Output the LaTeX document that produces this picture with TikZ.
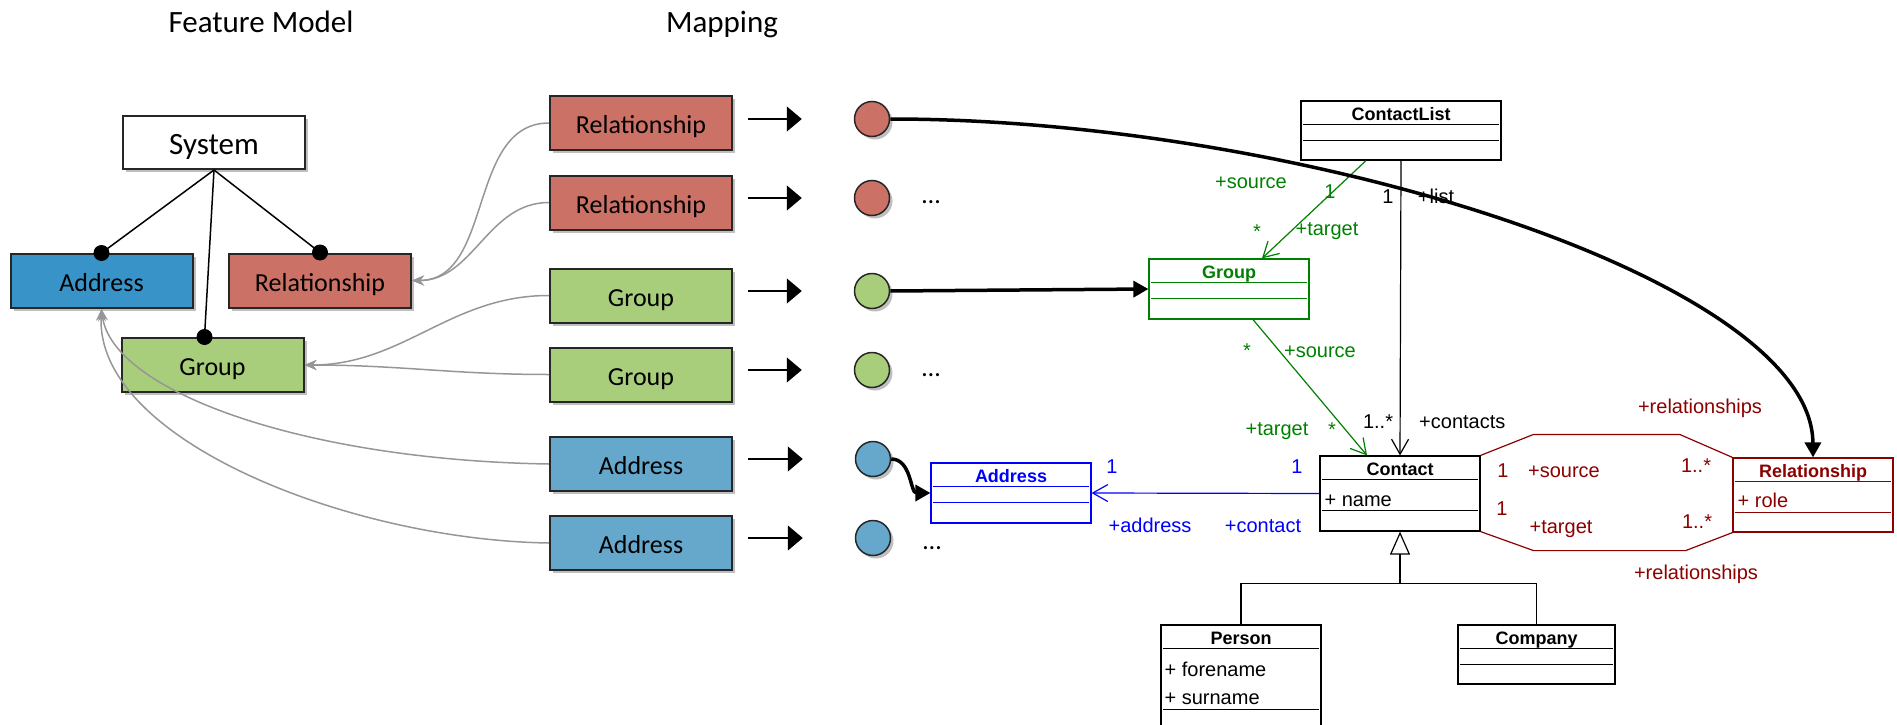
\documentclass[tikz,border=0pt]{standalone}
\usepackage{fontspec}
\setmainfont{Carlito}
\newfontfamily\umlfont{Liberation Sans}
\usetikzlibrary{arrows.meta,shadows}

\definecolor{addrdark}{RGB}{56,148,200}
\definecolor{addrblue}{RGB}{101,168,204}
\definecolor{relred}{RGB}{204,113,101}
\definecolor{grpgreen}{RGB}{169,206,123}
\definecolor{umlgreen}{RGB}{0,128,0}
\definecolor{umlblue}{RGB}{0,0,255}
\definecolor{umlred}{RGB}{140,0,0}
\definecolor{linkgray}{RGB}{150,150,150}

\begin{document}
\begin{tikzpicture}[x=1pt,y=-1pt]
        \clip (0,0) rectangle (1897,725);
        \tikzstyle{every node} = [inner sep=0pt]
        \tikzstyle{feat} = [rectangle, draw=black!85, line width=2pt, minimum width=182pt, minimum height=54pt,
            font=\fontsize{26}{30}\selectfont, text height=27pt, text depth=6pt,
            drop shadow={shadow xshift=3pt, shadow yshift=-3pt, opacity=0.25, fill=black}]
        \tikzstyle{obj} = [circle, draw=black!85, line width=1.5pt, minimum size=35pt,
            drop shadow={shadow xshift=3pt, shadow yshift=-3pt, opacity=0.25, fill=black}]
        \tikzstyle{head} = [font=\fontsize{31}{36}\selectfont, anchor=base]
        \tikzstyle{cls} = [rectangle, draw, line width=1.2pt, fill=white]
        \tikzstyle{clsname} = [font=\umlfont\bfseries\fontsize{18}{22}\selectfont, anchor=base]
        \tikzstyle{attr} = [font=\umlfont\fontsize{20}{24}\selectfont, anchor=base west]
        \tikzstyle{lbl} = [font=\umlfont\fontsize{20}{24}\selectfont, anchor=base]
        \tikzstyle{trace} = [draw=linkgray, line width=1.5pt, -{Stealth[length=12pt,width=10pt]}]
        \tikzstyle{maps} = [line width=1.2pt, -{Triangle[length=15pt,width=25pt]}]
        \tikzstyle{bind} = [line width=3.5pt, -{Triangle[length=15pt,width=16pt]}]
        \tikzstyle{assoc} = [line width=1.2pt, -{Straight Barb[length=15pt,width=17pt]}]

        % headings
        \node[head] (fmtitle) at (261,33) {Feature Model};
        \node[head] (maptitle) at (722,33) {Mapping};

        % feature model
        \node[feat, fill=white, drop shadow={opacity=0}, font=\fontsize{31}{36}\selectfont,
            text height=30pt, text depth=7pt, minimum height=53pt] (sys) at (214,142.5) {System};
        \node[feat, fill=addrdark] (fa) at (101.5,281) {Address};
        \node[feat, fill=relred] (fr) at (320,280.5) {Relationship};
        \node[feat, fill=grpgreen] (fg) at (212.5,365) {Group};

        \foreach \to/\dx in {fa/0, fr/0, fg/-8}
            \draw[line width=1.5pt] (sys.south) -- ([xshift=\dx pt]\to.north);
        \foreach \to/\dx in {fa/0, fr/0, fg/-8}
            \fill ([xshift=\dx pt]\to.north) circle (8);

        % mapping
        \node[feat, fill=relred] (m1) at (641,123) {Relationship};
        \node[feat, fill=relred] (m2) at (641,202.5) {Relationship};
        \node[feat, fill=grpgreen] (m3) at (641,295.5) {Group};
        \node[feat, fill=grpgreen] (m4) at (641,374.5) {Group};
        \node[feat, fill=addrblue] (m5) at (641,464) {Address};
        \node[feat, fill=addrblue] (m6) at (641,543) {Address};

        \node[obj, fill=relred] (o1) at (872,119) {};
        \node[obj, fill=relred] (o2) at (872,198) {};
        \node[obj, fill=grpgreen] (o3) at (872,291) {};
        \node[obj, fill=grpgreen] (o4) at (872,370) {};
        \node[obj, fill=addrblue] (o5) at (873,459) {};
        \node[obj, fill=addrblue] (o6) at (873,538) {};

        \foreach \i in {1,...,6}
            \draw[maps, shorten <=15pt, shorten >=52pt] (m\i.east |- o\i) -- (o\i.west);

        \node[anchor=base, font=\fontsize{26}{30}\selectfont] (d2) at (931,203) {\dots};
        \node[anchor=base, font=\fontsize{26}{30}\selectfont] (d4) at (931,376) {\dots};
        \node[anchor=base, font=\fontsize{26}{30}\selectfont] (d6) at (932,549) {\dots};

        % trace links back to the features
        \foreach \from/\to in {m1/fr, m2/fr, m3/fg, m4/fg}
            \draw[trace] (\from.west) to[out=180,in=0] (\to.east);
        \draw[trace] (m5.west) .. controls (300,460) and (112,390) .. (fa.south);
        \draw[trace] (m6.west) .. controls (350,540) and (95,440) .. (fa.south);

        % class diagram
        \node[cls, minimum width=200pt, minimum height=59pt] (clist) at (1401,130.5) {};
        \node[cls, draw=umlgreen, minimum width=160pt, minimum height=60pt] (gbox) at (1229,289) {};
        \node[cls, draw=umlblue, minimum width=160pt, minimum height=60pt] (abox) at (1011,493) {};
        \node[cls, minimum width=160pt, minimum height=75pt] (contact) at (1400,493.5) {};
        \node[cls, draw=umlred, minimum width=160pt, minimum height=74pt] (rbox) at (1813,495) {};
        \node[cls, minimum width=160pt, minimum height=120pt] (person) at (1241,685) {};
        \node[cls, minimum width=157pt, minimum height=59pt] (company) at (1536.5,654.5) {};

        \foreach \n/\c/\b/\t in {clist/black/40/ContactList, gbox/umlgreen/40/Group, abox/umlblue/40/Address,
                contact/black/55/Contact, rbox/umlred/55/Relationship, person/black/85/Person, company/black/40/Company}
        {
            \node[clsname, text=\c] (t\n) at ([yshift=-20pt]\n.north) {\t};
            \draw[\c, line width=1.2pt] ([xshift=3pt,yshift=-24pt]\n.north west) -- ([xshift=-3pt,yshift=-24pt]\n.north east);
            \draw[\c, line width=1.2pt] ([xshift=3pt,yshift=-\b pt]\n.north west) -- ([xshift=-3pt,yshift=-\b pt]\n.north east);
        }

        \node[attr] (aname) at ([xshift=5pt,yshift=-51pt]contact.north west) {+ name};
        \node[attr, umlred] (arole) at ([xshift=5pt,yshift=-50pt]rbox.north west) {+ role};
        \node[attr] (afore) at ([xshift=4pt,yshift=-52pt]person.north west) {+ forename};
        \node[attr] (asur) at ([xshift=4pt,yshift=-80pt]person.north west) {+ surname};

        \draw[assoc] (clist.south) -- (contact.north);
        \draw[assoc, umlgreen] ([xshift=-35pt]clist.south) -- ([xshift=33pt]gbox.north);
        \draw[assoc, umlgreen] ([xshift=24pt]gbox.south) -- ([xshift=-33pt]contact.north);
        \draw[assoc, umlblue] (contact.west) -- (abox.east);
        \draw[umlred, line width=1.2pt] (contact.north east) -- ++(53,-21) -- ++(146,0) -- (rbox.north west);
        \draw[umlred, line width=1.2pt] (contact.south east) -- ++(53,19) -- ++(152,0) -- (rbox.south west);

        \coordinate (inh) at ([yshift=-52pt]contact.south);
        \draw[line width=1.2pt] (person.north) |- (inh) -| (company.north);
        \draw[line width=1.2pt, -{Triangle[open,length=23pt,width=20pt]}] (inh) -- (contact.south);

        % role names and multiplicities
        \foreach \x/\y/\t [count=\k] in {1251/188/+source, 1330/198/1, 1257/238/*, 1327/235/+target,
                1247/357/*, 1320/357/+source, 1277/435/+target, 1332/436/*}
            \node[lbl, umlgreen] (gl\k) at (\x,\y) {\t};
        \foreach \x/\y/\t [count=\k] in {1388/203/1, 1436/203/+list, 1378/428/1..*}
            \node[lbl] (bl\k) at (\x,\y) {\t};
        \node[lbl, anchor=base west] (blc) at (1419,428) {+contacts};
        \foreach \x/\y/\t [count=\k] in {1112/473/1, 1297/473/1, 1150/532/+address, 1263/532/+contact}
            \node[lbl, umlblue] (ul\k) at (\x,\y) {\t};
        \foreach \x/\y/\t [count=\k] in {1700/413/+relationships, 1503/477/1, 1564/477/+source, 1696/472/1..*,
                1502/515/1, 1561/533/+target, 1697/528/1..*, 1696/579/+relationships}
            \node[lbl, umlred] (rl\k) at (\x,\y) {\t};

        % instance bindings
        \draw[bind] (o1.east) .. controls (1300,119) and (1812,280) .. (rbox.north);
        \draw[bind] (o3.east) -- (gbox.west);
        \draw[bind] (o5.east) to[out=0,in=180] (abox.west);
\end{tikzpicture}
\end{document}
